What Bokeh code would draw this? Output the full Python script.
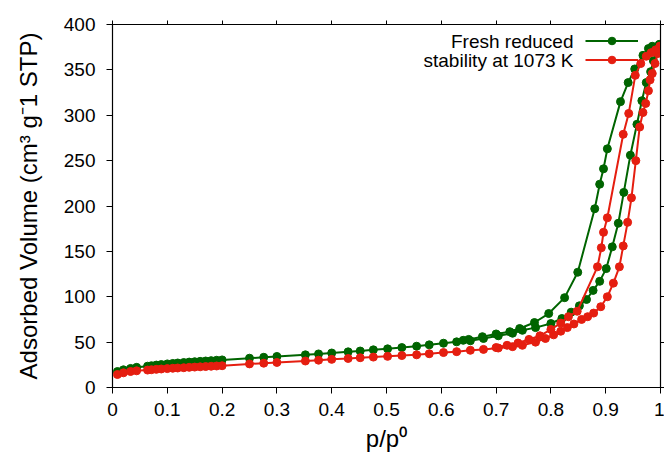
from bokeh.plotting import figure
from bokeh.models import (LinearAxis, FixedTicker, Legend, LegendItem, Label, Range1d,
                          CustomJSTickFormatter)
from bokeh.embed import file_html
from bokeh.resources import INLINE

# ---------------- data ----------------
x_ticks = [0, 0.1, 0.2, 0.3, 0.4, 0.5, 0.6, 0.7, 0.8, 0.9, 1.0]
x_tick_labels = ["0", "0.1", "0.2", "0.3", "0.4", "0.5", "0.6", "0.7", "0.8", "0.9", "1"]
y_ticks = [0, 50, 100, 150, 200, 250, 300, 350, 400]

series_names = ["Fresh reduced", "stability at 1073 K"]

fresh_ads_p = [0.009, 0.020, 0.033, 0.044, 0.064, 0.071, 0.080, 0.089, 0.100, 0.110,
               0.119, 0.130, 0.140, 0.150, 0.160, 0.170, 0.180, 0.190, 0.200, 0.250,
               0.276, 0.300, 0.352, 0.376, 0.400, 0.430, 0.452, 0.476, 0.502, 0.528,
               0.555, 0.578, 0.604, 0.628, 0.653, 0.677, 0.704, 0.730, 0.748, 0.772,
               0.800, 0.820, 0.837, 0.852, 0.865, 0.877, 0.889, 0.901, 0.912, 0.923,
               0.933, 0.945, 0.957, 0.966, 0.974, 0.982, 0.987, 0.993, 0.998]
fresh_ads_v = [17.6, 19.5, 21.0, 22.2, 23.5, 24.0, 24.7, 25.3, 26.0, 26.5,
               27.0, 27.5, 28.0, 28.4, 28.8, 29.2, 29.6, 30.0, 30.4, 32.3,
               33.3, 34.2, 36.0, 37.0, 38.0, 39.3, 40.2, 41.5, 42.6, 44.0,
               45.5, 47.0, 48.8, 50.3, 51.5, 54.0, 57.0, 59.8, 63.0, 66.0,
               70.5, 76.0, 83.0, 90.0, 97.0, 107.0, 117.0, 131.0, 155.0, 181.0,
               215.0, 256.0, 290.0, 316.0, 336.0, 348.0, 360.0, 370.0, 378.0]

fresh_des_p = [0.998, 0.985, 0.978, 0.968, 0.953, 0.941, 0.927, 0.903, 0.896, 0.889,
               0.880, 0.849, 0.825, 0.796, 0.770, 0.743, 0.725, 0.700, 0.675, 0.650, 0.640]
fresh_des_v = [378.0, 376.0, 373.5, 366.0, 351.0, 336.0, 315.0, 263.0, 241.0, 224.0,
               197.0, 127.0, 99.0, 81.5, 71.6, 65.0, 61.5, 59.0, 56.0, 53.0, 52.0]

stab_ads_p = [0.009, 0.020, 0.033, 0.044, 0.064, 0.071, 0.080, 0.089, 0.100, 0.110,
              0.119, 0.130, 0.140, 0.150, 0.160, 0.170, 0.180, 0.190, 0.200, 0.250,
              0.276, 0.300, 0.352, 0.376, 0.400, 0.430, 0.452, 0.476, 0.502, 0.528,
              0.555, 0.578, 0.604, 0.628, 0.653, 0.677, 0.704, 0.730, 0.748, 0.772,
              0.790, 0.805, 0.818, 0.830, 0.842, 0.856, 0.867, 0.878, 0.891, 0.903,
              0.914, 0.925, 0.932, 0.940, 0.947, 0.955, 0.962, 0.968, 0.973, 0.978,
              0.981, 0.985, 0.990, 0.995, 0.999]
stab_ads_v = [14.3, 16.2, 17.6, 18.4, 19.2, 19.6, 20.0, 20.4, 20.8, 21.2,
              21.5, 21.8, 22.2, 22.5, 22.8, 23.1, 23.4, 23.7, 24.0, 26.0,
              26.8, 27.6, 29.2, 30.1, 31.0, 32.0, 32.8, 33.5, 34.3, 35.2,
              36.0, 37.2, 38.5, 39.5, 41.0, 42.0, 43.5, 45.0, 46.5, 50.0,
              54.0, 58.0, 62.0, 66.0, 70.0, 75.0, 78.0, 82.0, 89.0, 100.0,
              115.0, 133.0, 156.0, 182.0, 209.0, 250.0, 287.0, 303.0, 313.0, 327.0,
              339.0, 346.0, 357.0, 368.0, 376.0]

stab_des_p = [0.999, 0.991, 0.983, 0.974, 0.964, 0.954, 0.942, 0.932, 0.903, 0.896,
              0.892, 0.885, 0.848, 0.832, 0.818, 0.800, 0.780, 0.760, 0.740, 0.720, 0.700]
stab_des_v = [376.0, 372.0, 369.0, 365.0, 357.0, 344.0, 302.0, 279.0, 187.0, 171.0,
              154.0, 133.0, 84.0, 78.0, 71.0, 64.0, 57.0, 53.0, 49.0, 46.5, 44.0]

# ---------------- style ----------------
GREEN = "#006400"
RED = "#e51e10"
FONT = "Liberation Sans"

p = figure(width=664, height=454, output_backend="svg", toolbar_location=None,
           x_range=Range1d(0, 1), y_range=Range1d(0, 400),
           min_border_left=112, min_border_right=4, min_border_top=24, min_border_bottom=67,
           x_axis_label="p/p\u2070", y_axis_label="Adsorbed Volume (cm\u00b3 g\u207b1 STP)")

p.xgrid.visible = False
p.ygrid.visible = False
p.outline_line_color = "black"
p.outline_line_width = 1.2
p.background_fill_color = "white"
p.border_fill_color = "white"

p.xaxis.ticker = FixedTicker(ticks=x_ticks)
p.xaxis.major_label_overrides = {t: l for t, l in zip(x_ticks, x_tick_labels)}
p.yaxis.ticker = FixedTicker(ticks=y_ticks)

for ax in (p.xaxis[0], p.yaxis[0]):
    ax.major_tick_in = 0
    ax.major_tick_out = 6
    ax.minor_tick_in = 0
    ax.minor_tick_out = 0
    ax.axis_line_color = "black"
    ax.major_tick_line_color = "black"
    ax.major_label_text_font = FONT
    ax.major_label_text_font_size = "19px"
    ax.major_label_text_color = "black"
    ax.axis_label_text_font = FONT
    ax.axis_label_text_font_size = "24px"
    ax.axis_label_text_font_style = "normal"
    ax.axis_label_text_color = "black"

p.yaxis.major_label_standoff = 11
p.yaxis.axis_label_standoff = 19
p.xaxis.major_label_standoff = 9
p.xaxis.axis_label_standoff = 6

blank = CustomJSTickFormatter(code="return ''")
top_ax = LinearAxis(ticker=FixedTicker(ticks=x_ticks), formatter=blank,
                    major_label_text_font_size="1px",
                    major_tick_out=4, major_tick_in=0, minor_tick_out=0, minor_tick_in=0,
                    major_label_standoff=0, axis_line_color="black", major_tick_line_color="black")
p.add_layout(top_ax, "above")
right_ax = LinearAxis(ticker=FixedTicker(ticks=y_ticks), formatter=blank,
                      major_label_text_font_size="1px",
                      major_tick_out=4, major_tick_in=0, minor_tick_out=0, minor_tick_in=0,
                      major_label_standoff=0, axis_line_color="black", major_tick_line_color="black")
p.add_layout(right_ax, "right")

# ---------------- curves ----------------
g_line = p.line(fresh_ads_p, fresh_ads_v, line_color=GREEN, line_width=2)
g_sc = p.scatter(fresh_ads_p, fresh_ads_v, size=8, fill_color=GREEN, line_color=GREEN)
p.line(fresh_des_p, fresh_des_v, line_color=GREEN, line_width=2)
p.scatter(fresh_des_p, fresh_des_v, size=8, fill_color=GREEN, line_color=GREEN)

r_line = p.line(stab_ads_p, stab_ads_v, line_color=RED, line_width=2)
r_sc = p.scatter(stab_ads_p, stab_ads_v, size=8, fill_color=RED, line_color=RED)
p.line(stab_des_p, stab_des_v, line_color=RED, line_width=2)
p.scatter(stab_des_p, stab_des_v, size=8, fill_color=RED, line_color=RED)

# ---------------- legend (text left of sample, gnuplot style) ----------------
leg = Legend(items=[LegendItem(label=" ", renderers=[g_line, g_sc]),
                    LegendItem(label=" ", renderers=[r_line, r_sc])],
             location=(473, 318), orientation="vertical",
             glyph_width=53, glyph_height=19, label_height=19, label_width=0,
             label_standoff=0, padding=0, margin=0, spacing=0,
             border_line_color=None, background_fill_alpha=0,
             label_text_font_size="1px")
p.add_layout(leg)

for name, ys in zip(series_names, (346, 327)):
    p.add_layout(Label(x=461, y=ys, x_units="screen", y_units="screen", text=name,
                       text_align="right", text_baseline="middle", text_font=FONT,
                       text_font_size="19px", text_color="black"))

open("out.html", "w").write(file_html(p, INLINE))
